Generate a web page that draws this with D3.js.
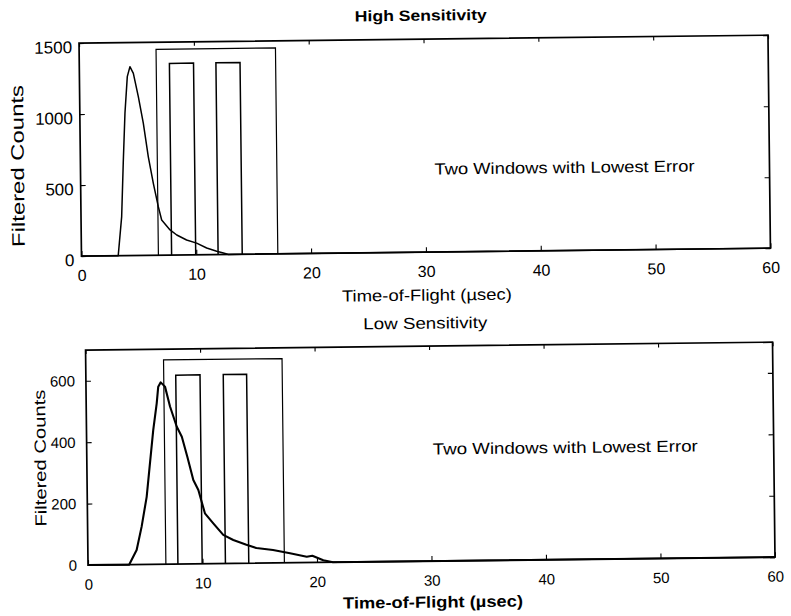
<!DOCTYPE html>
<html>
<head>
<meta charset="utf-8">
<script src="https://cdn.jsdelivr.net/npm/d3@7"></script>
<style>
  html, body { margin: 0; padding: 0; background: #fff; }
  svg { display: block; }
  text { font-family: "Liberation Sans", Arial, Helvetica, sans-serif; fill: #000; }
</style>
</head>
<body>
<svg id="chart" width="791" height="616"></svg>
<script>
// ---------------- data ----------------
const xTicks = [0, 10, 20, 30, 40, 50, 60];
const highYTicks = [0, 500, 1000, 1500];
const lowYTicks = [0, 200, 400, 600];

const highTime   = [0, 3.2, 3.54, 3.73, 3.93, 4.17, 4.41, 4.7, 5.11, 5.52, 5.92, 6.33, 6.74, 7.02, 7.74, 8.32, 9.17, 10.04, 10.91, 11.78, 12.36, 12.8, 60];
const highCounts = [0, 0,   275,  650,  1002, 1260, 1330, 1283, 1118, 930, 694,  507,  342,  248,  177,  141,  105,  82,    47,    23,    11,    0,   0];

const lowTime   = [0, 3.6, 4.26, 4.72, 5.19, 5.51, 5.83, 6.16, 6.31, 6.53, 6.9, 7.32, 7.89, 8.32, 8.78, 9.28, 9.71, 10.26, 10.98, 11.84, 12.71, 13.85, 14.72, 16.17, 17.65, 19.11, 19.6, 20.55, 21.4, 60];
const lowCounts = [0, 0,   47,   123,  220,  329,  437,  524,  578,  592,  578, 513,  447,  414,  349,  273,  240,  164,   131,   93,    76,    60,    49,    42,    31,    19,    22,   7,     0,    0];

// windows: outer window, then the two lowest-error windows
const highWindowStart = [6.7, 7.85, 11.9];
const highWindowEnd   = [17.1, 9.95, 14.0];
const highWindowLevel = [1450, 1350, 1350];

const lowWindowStart = [6.8, 7.85, 12.0];
const lowWindowEnd   = [17.15, 9.97, 14.04];
const lowWindowLevel = [665, 615, 615];

const titles = ["High Sensitivity", "Low Sensitivity"];
const xLabel = "Time-of-Flight (\u00b5sec)";
const yLabel = "Filtered Counts";
const note = "Two Windows with Lowest Error";

// ---------------- drawing ----------------
const svg = d3.select("#chart");
const root = svg.append("g").attr("transform", "rotate(-0.66,395,300)");

const panels = [
  {
    box: {l: 82, r: 771, t: 39.5, b: 252.5}, ymax: 1500, yTicks: highYTicks,
    time: highTime, counts: highCounts,
    ws: highWindowStart, we: highWindowEnd, wl: highWindowLevel,
    title: {text: titles[0], x: 424, y: 21, size: 15, weight: "bold", len: 132},
    xlab: {x: 427, y: 301, size: 16, weight: "normal", len: 170},
    ylab: {x: 25.5, y: 161.7, size: 18, weight: "normal", len: 162},
    note: {x: 566, y: 175, len: 260},
    xTickSize: 16, yTickSize: 17, yLabEnd: 75, yDy: 9.5, xPad: 13.5,
    curveWidth: 1.5
  },
  {
    box: {l: 85, r: 772, t: 346.5, b: 561.5}, ymax: 700, yTicks: lowYTicks,
    time: lowTime, counts: lowCounts,
    ws: lowWindowStart, we: lowWindowEnd, wl: lowWindowLevel,
    title: {text: titles[1], x: 425, y: 329, size: 16, weight: "normal", len: 124},
    xlab: {x: 429.5, y: 608, size: 16, weight: "bold", len: 180},
    ylab: {x: 44, y: 454, size: 16, weight: "normal", len: 137},
    note: {x: 563.5, y: 455, len: 265},
    xTickSize: 15, yTickSize: 15, yLabEnd: 74, yDy: 5, xPad: 14,
    curveWidth: 2.1
  }
];

panels.forEach(p => {
  const b = p.box;
  const x = d3.scaleLinear().domain([0, 60]).range([b.l, b.r]);
  const y = d3.scaleLinear().domain([0, p.ymax]).range([b.b, b.t]);
  const g = root.append("g");

  // windows
  const windows = d3.range(p.ws.length).map(i => [p.ws[i], p.we[i], p.wl[i]]);
  g.selectAll("path.win").data(windows).join("path")
    .attr("class", "win")
    .attr("fill", "none").attr("stroke", "#000")
    .attr("stroke-width", (d, i) => i === 0 ? 1.2 : 1.5)
    .attr("d", d => `M${x(d[0])},${y(0)}L${x(d[0])},${y(d[2])}L${x(d[1])},${y(d[2])}L${x(d[1])},${y(0)}`);

  // curve
  const line = d3.line().x(d => x(d[0])).y(d => y(d[1]));
  g.append("path")
    .datum(d3.zip(p.time, p.counts))
    .attr("fill", "none").attr("stroke", "#000")
    .attr("stroke-width", p.curveWidth)
    .attr("stroke-linejoin", "round")
    .attr("d", line);

  // axes (inward ticks)
  const fmt = d3.format("d");
  const bottom = g.append("g").attr("transform", `translate(0,${b.b})`)
    .call(d3.axisBottom(x).tickValues(xTicks).tickSize(-5).tickPadding(p.xPad).tickFormat(fmt));
  bottom.select(".domain").remove();
  bottom.selectAll("text").attr("font-size", p.xTickSize).attr("font-family", null);

  const top = g.append("g").attr("transform", `translate(0,${b.t})`)
    .call(d3.axisTop(x).tickValues(xTicks).tickSize(-4).tickFormat(""));
  top.select(".domain").remove();

  const left = g.append("g").attr("transform", `translate(${b.l},0)`)
    .call(d3.axisLeft(y).tickValues(p.yTicks).tickSize(-5).tickPadding(b.l - p.yLabEnd).tickFormat(fmt));
  left.select(".domain").remove();
  left.selectAll("text").attr("font-size", p.yTickSize).attr("font-family", null)
    .attr("dy", null).attr("y", p.yDy);

  const right = g.append("g").attr("transform", `translate(${b.r},0)`)
    .call(d3.axisRight(y).tickValues(p.yTicks).tickSize(-5).tickFormat(""));
  right.select(".domain").remove();

  g.selectAll(".tick line").attr("stroke", "#000").attr("stroke-width", 1.1);

  // box
  g.append("rect")
    .attr("x", b.l).attr("y", b.t).attr("width", b.r - b.l).attr("height", b.b - b.t)
    .attr("fill", "none").attr("stroke", "#000").attr("stroke-width", 1.7);

  // texts
  g.append("text").text(p.title.text)
    .attr("x", p.title.x).attr("y", p.title.y).attr("text-anchor", "middle")
    .attr("font-size", p.title.size).attr("font-weight", p.title.weight)
    .attr("textLength", p.title.len).attr("lengthAdjust", "spacingAndGlyphs");

  g.append("text").text(xLabel)
    .attr("x", p.xlab.x).attr("y", p.xlab.y).attr("text-anchor", "middle")
    .attr("font-size", p.xlab.size).attr("font-weight", p.xlab.weight)
    .attr("textLength", p.xlab.len).attr("lengthAdjust", "spacingAndGlyphs");

  g.append("text").text(yLabel)
    .attr("transform", `translate(${p.ylab.x},${p.ylab.y}) rotate(-90)`)
    .attr("text-anchor", "middle")
    .attr("font-size", p.ylab.size).attr("font-weight", p.ylab.weight)
    .attr("textLength", p.ylab.len).attr("lengthAdjust", "spacingAndGlyphs");

  g.append("text").text(note)
    .attr("x", p.note.x).attr("y", p.note.y).attr("text-anchor", "middle")
    .attr("font-size", 16)
    .attr("textLength", p.note.len).attr("lengthAdjust", "spacingAndGlyphs");
});
</script>
</body>
</html>
